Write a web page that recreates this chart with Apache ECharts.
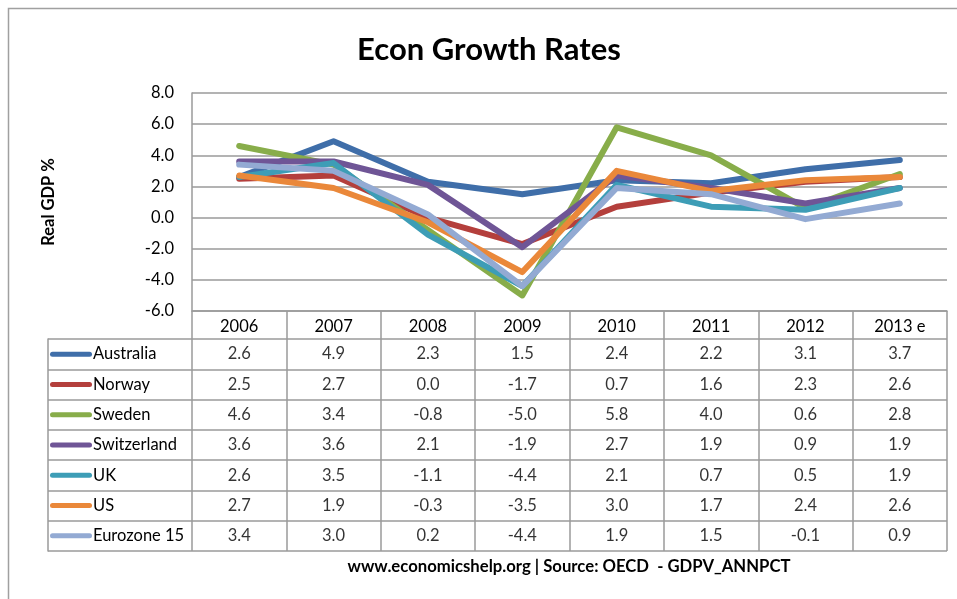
<!DOCTYPE html>
<html>
<head>
<meta charset="utf-8">
<script src="https://cdn.jsdelivr.net/npm/echarts@6/dist/echarts.min.js"></script>
<style>
  html, body { margin: 0; padding: 0; background: #fff; }
  #chart { width: 957px; height: 599px; }
</style>
</head>
<body>
<div id="chart"></div>
<script>
// Real GDP growth, % per year (OECD GDPV_ANNPCT)
const years = ['2006', '2007', '2008', '2009', '2010', '2011', '2012', '2013 e'];
const countries = ['Australia', 'Norway', 'Sweden', 'Switzerland', 'UK', 'US', 'Eurozone 15'];

const australia   = [2.6, 4.9, 2.3, 1.5, 2.4, 2.2, 3.1, 3.7];
const norway      = [2.5, 2.7, 0.0, -1.7, 0.7, 1.6, 2.3, 2.6];
const sweden      = [4.6, 3.4, -0.8, -5.0, 5.8, 4.0, 0.6, 2.8];
const switzerland = [3.6, 3.6, 2.1, -1.9, 2.7, 1.9, 0.9, 1.9];
const uk          = [2.6, 3.5, -1.1, -4.4, 2.1, 0.7, 0.5, 1.9];
const us          = [2.7, 1.9, -0.3, -3.5, 3.0, 1.7, 2.4, 2.6];
const eurozone15  = [3.4, 3.0, 0.2, -4.4, 1.9, 1.5, -0.1, 0.9];

const seriesValues = [australia, norway, sweden, switzerland, uk, us, eurozone15];
const colors = ['#3f6ea9', '#b43f3c', '#88ad4a', '#6f5596', '#3d9db6', '#ea883a', '#93aad3'];

const yAxisMin = -6, yAxisMax = 8, yAxisStep = 2;

const FONT = 'Lato, "Liberation Sans", sans-serif';
const GRID_LINE = '#9a9a9a';

const chart = echarts.init(document.getElementById('chart'), null, { renderer: 'canvas' });

// rich-text swatches for the legend column of the data table
const rich = { t: { fontFamily: FONT, fontSize: 16.5, color: '#000', padding: [0, 0, 0, 1] } };
colors.forEach((c, i) => {
  rich['s' + i] = { width: 42, height: 5, backgroundColor: c, borderRadius: 3 };
});

// one label per table cell
const cellData = [];
seriesValues.forEach((vals, r) => {
  vals.forEach((v, c) => cellData.push([years[c], countries[r], v]));
});

const option = {
  animation: false,
  textStyle: { fontFamily: FONT },
  graphic: [
    {
      type: 'rect',
      shape: { x: 8.5, y: 8.5, width: 1200, height: 1200 },
      style: { fill: 'none', stroke: '#a0a0a0', lineWidth: 1.5 },
      silent: true
    },
    {
      type: 'text',
      x: 489, y: 50,
      style: {
        text: 'Econ Growth Rates',
        fontFamily: FONT, fontSize: 31, fontWeight: 'bold', fill: '#000',
        align: 'center', verticalAlign: 'middle'
      }
    },
    {
      type: 'text',
      x: 569, y: 567,
      style: {
        text: 'www.economicshelp.org | Source: OECD  - GDPV_ANNPCT',
        fontFamily: FONT, fontSize: 16.7, fontWeight: 'bold', fill: '#000',
        align: 'center', verticalAlign: 'middle'
      }
    }
  ],
  grid: [
    // line plot
    { left: 192, right: 10, top: 93, height: 218, containLabel: false },
    // value cells of the data table
    { left: 192, right: 10, top: 339, height: 212, containLabel: false },
    // legend keys of the data table
    { left: 48, width: 144, top: 339, height: 212, containLabel: false }
  ],
  xAxis: [
    {
      gridIndex: 0, type: 'category', data: years, boundaryGap: true,
      axisLine: { show: true, onZero: false, lineStyle: { color: GRID_LINE, width: 1.5 } },
      axisTick: { show: true, inside: false, length: 28, lineStyle: { color: GRID_LINE, width: 1.5 } },
      axisLabel: { fontFamily: FONT, fontSize: 16.5, color: '#000', margin: 7 },
      splitLine: { show: false }
    },
    {
      gridIndex: 1, type: 'category', data: years, boundaryGap: true,
      axisLine: { show: false }, axisTick: { show: false }, axisLabel: { show: false },
      splitLine: { show: true, lineStyle: { color: GRID_LINE, width: 1.5 } }
    },
    {
      gridIndex: 2, type: 'category', data: [''], boundaryGap: true,
      axisLine: { show: false }, axisTick: { show: false }, axisLabel: { show: false },
      splitLine: { show: false }
    }
  ],
  yAxis: [
    {
      gridIndex: 0, type: 'value', min: yAxisMin, max: yAxisMax, interval: yAxisStep,
      name: 'Real GDP %', nameLocation: 'middle', nameGap: 135,
      nameTextStyle: { fontFamily: FONT, fontSize: 16.5, fontWeight: 'bold', color: '#000' },
      axisLine: { show: true, lineStyle: { color: GRID_LINE, width: 1.5 } },
      axisTick: { show: false },
      axisLabel: { fontFamily: FONT, fontSize: 16.5, color: '#000', margin: 18, formatter: v => v.toFixed(1) },
      splitLine: { show: true, lineStyle: { color: GRID_LINE, width: 1.5 } }
    },
    {
      gridIndex: 1, type: 'category', data: countries, inverse: true, boundaryGap: true,
      axisLine: { show: false }, axisTick: { show: false }, axisLabel: { show: false },
      splitLine: { show: true, lineStyle: { color: GRID_LINE, width: 1.5 } }
    },
    {
      gridIndex: 2, type: 'category', data: countries, inverse: true, boundaryGap: true,
      axisLine: { show: true, lineStyle: { color: GRID_LINE, width: 1.5 } },
      axisTick: { show: false },
      axisLabel: {
        inside: true, margin: 2, align: 'left',
        formatter: (v, i) => '{s' + i + '|}{t|' + v + '}',
        rich: rich
      },
      splitLine: { show: true, lineStyle: { color: GRID_LINE, width: 1.5 } }
    }
  ],
  series: seriesValues.map((vals, i) => ({
    name: countries[i],
    type: 'line',
    xAxisIndex: 0, yAxisIndex: 0,
    data: vals,
    showSymbol: false,
    symbol: 'none',
    silent: true,
    lineStyle: { color: colors[i], width: 6, cap: 'round', join: 'round' },
    itemStyle: { color: colors[i] }
  })).concat([{
    name: 'table',
    type: 'scatter',
    xAxisIndex: 1, yAxisIndex: 1,
    data: cellData,
    symbolSize: 1,
    silent: true,
    itemStyle: { color: 'rgba(0,0,0,0)' },
    label: {
      show: true, position: 'inside',
      fontFamily: FONT, fontSize: 16.5, color: '#000',
      formatter: p => p.value[2].toFixed(1)
    }
  }])
};

chart.setOption(option);
</script>
</body>
</html>
